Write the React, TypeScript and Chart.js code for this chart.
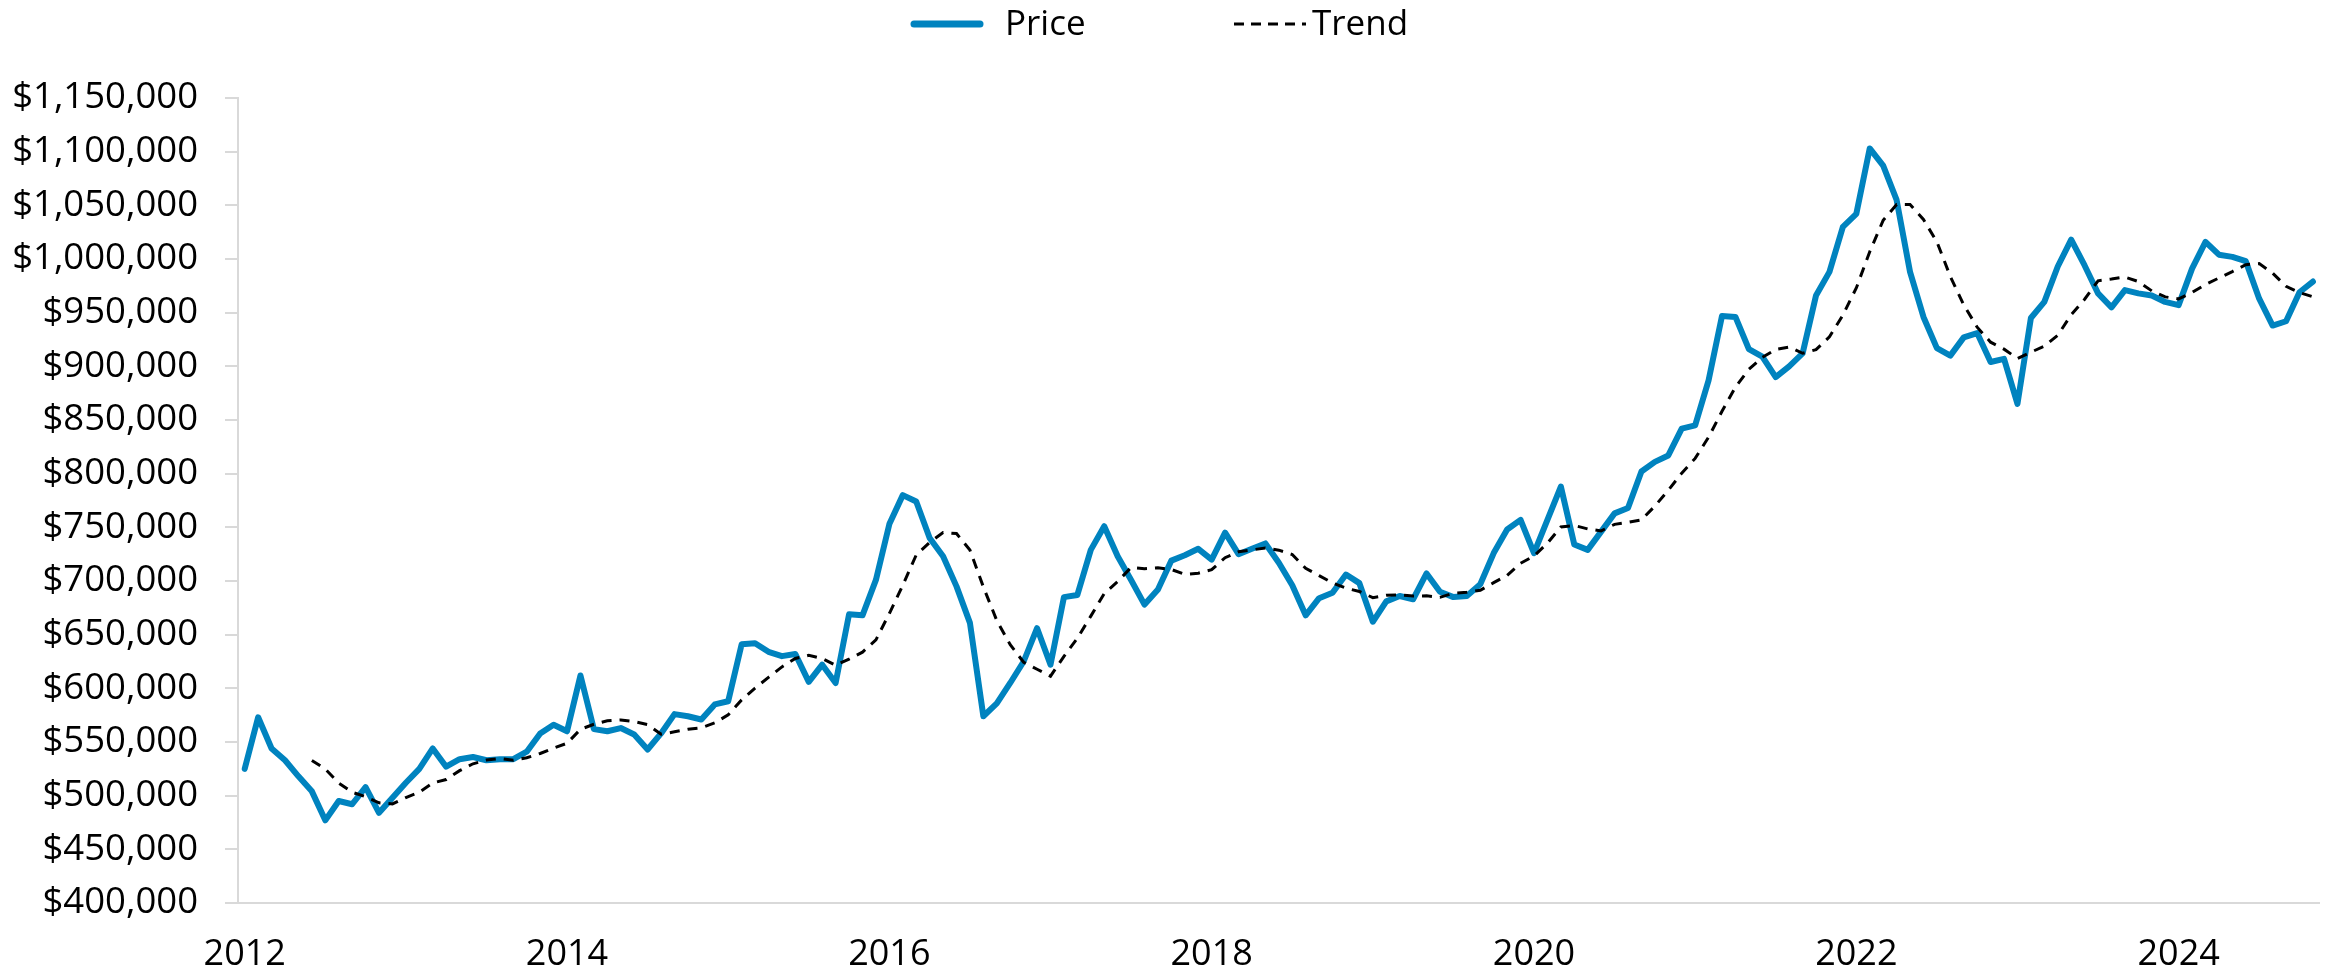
import React, { useEffect, useRef } from "react";
import { Chart, registerables } from "chart.js";

Chart.register(...registerables);

const startYear = 2012;
const monthCount = 155;
const categories: string[] = Array.from({ length: monthCount }, (_, i) =>
  `${startYear + Math.floor(i / 12)}-${String((i % 12) + 1).padStart(2, "0")}`
);

const yearTicks = ["2012", "2014", "2016", "2018", "2020", "2022", "2024"];

const priceValues = [
  525000, 573000, 544000, 533000, 518000, 504000, 477000, 495000, 492000, 508000, 484000, 498000,
  512000, 525000, 544000, 527000, 534000, 536000, 533000, 534000, 534000, 541000, 558000, 566000,
  560000, 612000, 562000, 560000, 563000, 557000, 543000, 558000, 576000, 574000, 571000, 585000,
  588000, 641000, 642000, 634000, 630000, 632000, 606000, 622000, 605000, 669000, 668000, 701000,
  753000, 780000, 774000, 740000, 723000, 695000, 661000, 574000, 586000, 605000, 625000, 656000,
  622000, 685000, 687000, 729000, 751000, 723000, 701000, 678000, 692000, 719000, 724000, 730000,
  720000, 745000, 725000, 730000, 735000, 717000, 696000, 668000, 684000, 689000, 706000, 698000,
  662000, 681000, 686000, 683000, 707000, 690000, 685000, 686000, 697000, 726000, 748000, 757000,
  726000, 757000, 788000, 734000, 729000, 746000, 763000, 768000, 802000, 811000, 817000, 842000,
  845000, 887000, 947000, 946000, 916000, 909000, 890000, 900000, 912000, 966000, 988000, 1030000,
  1042000, 1103000, 1087000, 1055000, 988000, 946000, 917000, 910000, 927000, 931000, 904000, 907000,
  865000, 945000, 960000, 993000, 1018000, 994000, 968000, 955000, 971000, 968000, 966000, 960000,
  957000, 991000, 1016000, 1004000, 1002000, 998000, 963000, 938000, 942000, 969000, 979000,
];

const trendValues = [
  null, null, null, null, null,
  532800, 524800, 511800, 503200, 499000, 493300, 492300,
  498200, 503200, 511800, 515000, 523300, 529700, 533200, 534700, 533000, 535300, 539300, 544300,
  548800, 561800, 566500, 569700, 570500, 569000, 566200, 557200, 559500, 561800, 563200, 567800,
  575300, 589200, 600200, 610200, 620000, 627800, 630800, 627700, 621500, 627300, 633700, 645200,
  669700, 696000, 724200, 736000, 745200, 744200, 728800, 694500, 663200, 640700, 624300, 617800,
  611300, 629800, 646700, 667300, 688300, 699500, 712700, 711500, 712300, 710700, 706200, 707300,
  710500, 721700, 727200, 729000, 730800, 728700, 724700, 711800, 705000, 698200, 693300, 690200,
  684500, 686700, 687000, 686000, 686200, 684800, 688700, 689500, 691300, 698500, 705300, 716500,
  723300, 735200, 750300, 751700, 748500, 746700, 752800, 754700, 757000, 769800, 784500, 800500,
  814200, 834000, 858200, 880700, 897200, 908300, 915800, 918000, 912200, 915500, 927500, 947700,
  973000, 1006800, 1036000, 1050800, 1050800, 1036800, 1016000, 983800, 957200, 936500, 922500, 916000,
  907300, 913200, 918700, 929000, 948000, 962500, 979700, 981300, 983200, 979000, 970300, 964700,
  962800, 968800, 976300, 982300, 988300, 994700, 995700, 986800, 974500, 968700, 964800,
];

const seriesNames = ["Price", "Trend"];
const priceColor = "#0083BF";
const trendColor = "#000000";
const axisColor = "#d9d9d9";
const fontFamily = "'Open Sans', 'Noto Sans', sans-serif";
const fontSize = 35;

const legendPlugin = {
  id: "customLegend",
  afterDraw(chart: any) {
    const ctx = chart.ctx;
    const y = 24;
    ctx.save();
    ctx.font = `${fontSize}px ${fontFamily}`;
    ctx.textBaseline = "middle";
    ctx.fillStyle = "#000";
    // Price
    ctx.strokeStyle = priceColor;
    ctx.lineWidth = 7;
    ctx.lineCap = "round";
    ctx.setLineDash([]);
    ctx.beginPath();
    ctx.moveTo(914, y);
    ctx.lineTo(980, y);
    ctx.stroke();
    ctx.fillText(seriesNames[0], 1005, y + 1);
    // Trend
    ctx.strokeStyle = trendColor;
    ctx.lineWidth = 3;
    ctx.lineCap = "butt";
    ctx.setLineDash([10, 7]);
    ctx.beginPath();
    ctx.moveTo(1234, y);
    ctx.lineTo(1306, y);
    ctx.stroke();
    ctx.setLineDash([]);
    ctx.fillText(seriesNames[1], 1312, y + 1);
    ctx.restore();
  },
};

export default function App() {
  const canvasRef = useRef<HTMLCanvasElement | null>(null);

  useEffect(() => {
    if (!canvasRef.current) return;
    Chart.defaults.font.family = fontFamily;
    Chart.defaults.font.size = fontSize;
    Chart.defaults.color = "#000";

    const chart = new Chart(canvasRef.current, {
      type: "line",
      data: {
        labels: categories,
        datasets: [
          {
            label: seriesNames[0],
            data: priceValues,
            borderColor: priceColor,
            backgroundColor: priceColor,
            borderWidth: 6,
            pointRadius: 0,
            tension: 0,
            borderJoinStyle: "round",
            borderCapStyle: "round",
            order: 2,
          },
          {
            label: seriesNames[1],
            data: trendValues,
            borderColor: trendColor,
            backgroundColor: trendColor,
            borderWidth: 3,
            borderDash: [10, 8],
            pointRadius: 0,
            tension: 0,
            spanGaps: false,
            order: 1,
          },
        ],
      },
      options: {
        animation: false,
        responsive: false,
        maintainAspectRatio: false,
        layout: { padding: { top: 98, right: 23, bottom: 0, left: 0 } },
        plugins: {
          legend: { display: false },
          tooltip: { enabled: false },
        },
        scales: {
          x: {
            type: "category",
            offset: true,
            grid: { display: false, drawTicks: false, tickLength: 0 },
            border: { display: true, color: axisColor, width: 2 },
            ticks: {
              autoSkip: false,
              maxRotation: 0,
              minRotation: 0,
              padding: 30,
              font: { size: 36, family: fontFamily },
              color: "#000",
              callback: (_v: any, index: number) =>
                index % 24 === 0 ? yearTicks[index / 24] : "",
            },
            afterFit: (scale: any) => {
              scale.height = 75;
            },
          },
          y: {
            min: 400000,
            max: 1150000,
            grid: {
              display: true,
              drawOnChartArea: false,
              drawTicks: true,
              tickLength: 13,
              color: axisColor,
              lineWidth: 2,
            },
            border: { display: true, color: axisColor, width: 2 },
            ticks: {
              stepSize: 50000,
              padding: 27,
              color: "#000",
              font: { size: 36.5, family: fontFamily },
              callback: (v: any) => "$" + Number(v).toLocaleString("en-US"),
            },
            afterFit: (scale: any) => {
              scale.width = 238;
            },
          },
        },
      },
      plugins: [legendPlugin],
    });
    return () => chart.destroy();
  }, []);

  return (
    <div style={{ position: "fixed", left: 0, top: 0, width: 2343, height: 978, background: "#fff" }}>
      <canvas ref={canvasRef} width={2343} height={978} style={{ width: 2343, height: 978 }} />
    </div>
  );
}
